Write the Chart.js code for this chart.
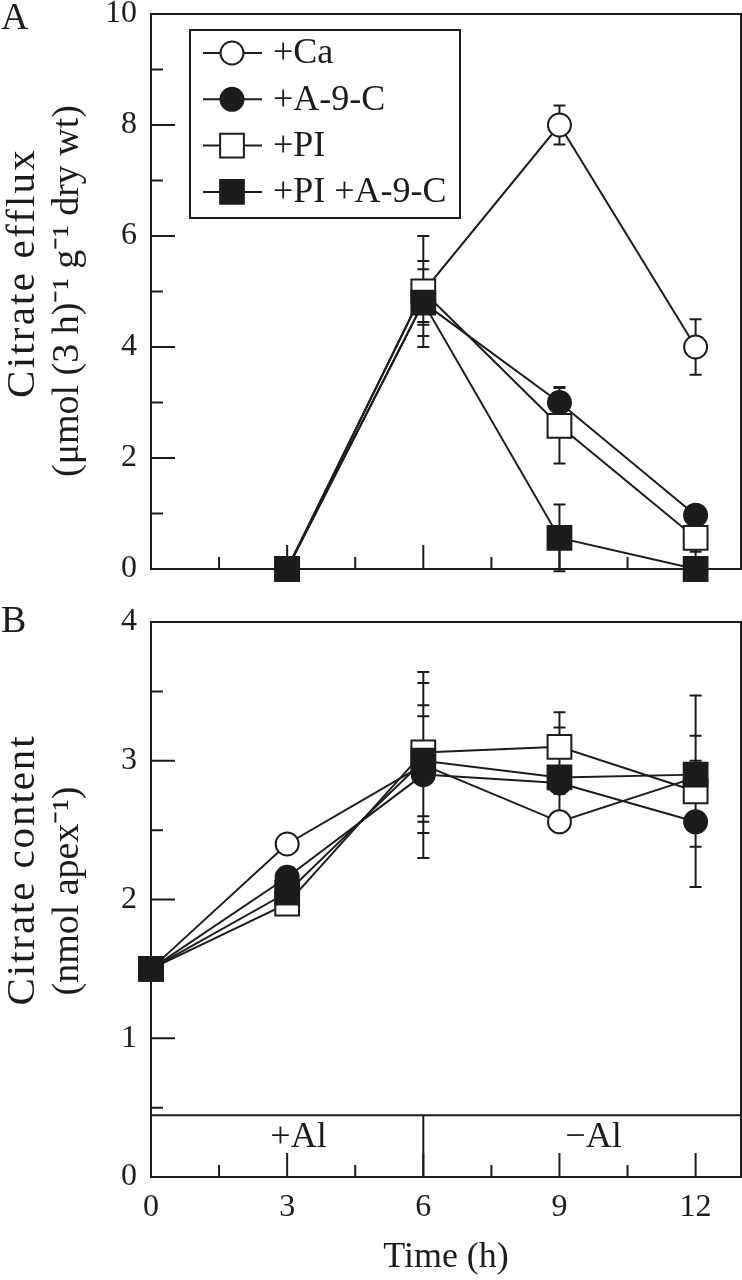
<!DOCTYPE html>
<html><head><meta charset="utf-8">
<script src="https://cdn.jsdelivr.net/npm/chart.js@4.4.0/dist/chart.umd.min.js"></script>
<style>
html,body{margin:0;padding:0;background:#fff;}
#wrap{position:relative;width:742px;height:1280px;overflow:hidden;}
#cA{position:absolute;left:0;top:0;}
#cB{position:absolute;left:0;top:600px;}
</style></head><body>
<div id="wrap"><canvas id="cA" width="742" height="600"></canvas><canvas id="cB" width="742" height="680"></canvas></div>
<script>
// ---------- data ----------
const seriesNames = ['+Ca', '+A-9-C', '+PI', '+PI +A-9-C'];

// Panel A: citrate efflux
const effluxTimes = [3, 6, 9, 12];
const effluxCa     = [0, 5.0, 8.0, 4.0];
const effluxA9C    = [0, 4.8, 3.0, 0.97];
const effluxPI     = [0, 5.0, 2.58, 0.56];
const effluxPIA9C  = [0, 4.8, 0.56, 0];
const effluxErrCa    = [0, 1.0, 0.35, 0.5];
const effluxErrA9C   = [0, 0.4, 0.28, 0.1];
const effluxErrPI    = [0, 0.55, 0.68, 0.25];
const effluxErrPIA9C = [0, 0.6, 0.6, 0];

// Panel B: citrate content
const contentTimes = [0, 3, 6, 9, 12];
const contentCa    = [1.5, 2.4, 2.97, 2.56, 2.88];
const contentA9C   = [1.5, 2.16, 2.9, 2.84, 2.56];
const contentPI    = [1.5, 1.97, 3.06, 3.1, 2.78];
const contentPIA9C = [1.5, 2.05, 3.0, 2.88, 2.9];
const contentErrCa    = [0, 0, 0.67, 0, 0.3];
const contentErrA9C   = [0, 0, 0.42, 0.08, 0.18];
const contentErrPI    = [0, 0, 0.5, 0.25, 0.69];
const contentErrPIA9C = [0, 0, 0.4, 0.36, 0.1];

const titleA = ['Citrate efflux', '(\u03bcmol (3 h)\u207b\u00b9 g\u207b\u00b9 dry wt)'];
const titleB = ['Citrate content', '(nmol apex\u207b\u00b9)'];
const titleX = 'Time (h)';

const bandLabels = ['+Al', '\u2212Al'];
const bandCenters = [3.25, 9.75];
const bandSplit = 6;

// ---------- styles ----------
const INK = '#1c1c1c';
const FONT = "'Liberation Serif', 'Times New Roman', serif";
const pointStyles = ['circle', 'circle', 'rect', 'rect'];
const pointFills = ['#ffffff', INK, '#ffffff', INK];
const pointSizes = [11.5, 11.5, 16.8, 16.8];
const drawOrder = [3, 2, 1, 0];

function buildDatasets(times, vals, errs) {
  return vals.map((v, s) => ({
    label: seriesNames[s],
    data: times.map((t, i) => ({x: t, y: v[i]})),
    errors: errs[s],
    borderColor: INK,
    borderWidth: 2,
    tension: 0,
    fill: false,
    pointStyle: pointStyles[s],
    pointRadius: pointSizes[s],
    pointHoverRadius: pointSizes[s],
    pointBackgroundColor: pointFills[s],
    pointBorderColor: INK,
    pointBorderWidth: 2,
    clip: false,
    order: drawOrder[s]
  }));
}

const framePlugin = {
  id: 'frame',
  beforeDatasetsDraw(chart, args, opts) {
    const {ctx, chartArea: a, scales: {x, y}} = chart;
    ctx.save();
    ctx.strokeStyle = INK;
    ctx.lineWidth = 2;
    ctx.strokeRect(a.left, a.top, a.right - a.left, a.bottom - a.top);
    ctx.beginPath();
    x.ticks.forEach(t => {
      if (t.value <= x.min || t.value >= x.max) return;
      const px = x.getPixelForValue(t.value);
      const len = (t.value % 3 === 0) ? 24 : 12;
      ctx.moveTo(px, a.bottom); ctx.lineTo(px, a.bottom - len);
    });
    y.ticks.forEach(t => {
      if (t.value <= y.min || t.value >= y.max) return;
      const py = y.getPixelForValue(t.value);
      const len = (t.label !== '' && t.label !== undefined) ? 24 : 12;
      ctx.moveTo(a.left, py); ctx.lineTo(a.left + len, py);
    });
    ctx.stroke();
    if (opts.band) {
      const by = y.getPixelForValue(opts.bandTop);
      const sx = x.getPixelForValue(bandSplit);
      ctx.beginPath();
      ctx.moveTo(a.left, by); ctx.lineTo(a.right, by);
      ctx.moveTo(sx, by); ctx.lineTo(sx, a.bottom);
      ctx.stroke();
      ctx.fillStyle = INK;
      ctx.font = '36px ' + FONT;
      ctx.textAlign = 'center';
      ctx.textBaseline = 'alphabetic';
      const ty = y.getPixelForValue(opts.bandText);
      bandLabels.forEach((l, i) => ctx.fillText(l, x.getPixelForValue(bandCenters[i]), ty));
    }
    // error bars
    ctx.beginPath();
    chart.data.datasets.forEach(ds => {
      ds.data.forEach((p, i) => {
        const e = ds.errors[i];
        if (!e) return;
        const px = x.getPixelForValue(p.x);
        const y1 = y.getPixelForValue(p.y + e), y2 = y.getPixelForValue(p.y - e);
        ctx.moveTo(px, y1); ctx.lineTo(px, y2);
        ctx.moveTo(px - 6, y1); ctx.lineTo(px + 6, y1);
        ctx.moveTo(px - 6, y2); ctx.lineTo(px + 6, y2);
      });
    });
    ctx.stroke();
    ctx.restore();
  },
  afterDraw(chart, args, opts) {
    const {ctx} = chart;
    ctx.save();
    ctx.fillStyle = INK;
    ctx.font = '38px ' + FONT;
    ctx.textAlign = 'left';
    ctx.textBaseline = 'middle';
    ctx.fillText(opts.letter, 1, opts.letterY);
    // rotated y-axis title (two lines)
    const T = opts.ytitle;
    T.lines.forEach((line, i) => {
      ctx.save();
      ctx.translate(T.base[i], T.center[i]);
      ctx.rotate(-Math.PI / 2);
      ctx.font = T.size[i] + 'px ' + FONT;
      ctx.textAlign = 'center';
      ctx.textBaseline = 'alphabetic';
      if ('letterSpacing' in ctx) ctx.letterSpacing = T.spacing[i] + 'px';
      ctx.fillText(line, 0, 0);
      ctx.restore();
    });
    if (opts.legend) {
      const L = opts.legend;
      ctx.strokeStyle = INK;
      ctx.lineWidth = 2;
      ctx.strokeRect(L.x, L.y, L.w, L.h);
      chart.data.datasets.forEach((ds, i) => {
        const cy = L.y + L.first + i * L.step;
        ctx.beginPath();
        ctx.moveTo(L.x + 13, cy); ctx.lineTo(L.x + 72, cy);
        ctx.stroke();
        const cx = L.x + 42;
        ctx.beginPath();
        const r = ds.pointRadius;
        if (ds.pointStyle === 'circle') {
          ctx.arc(cx, cy, r, 0, Math.PI * 2);
        } else {
          const s = r * Math.SQRT1_2;
          ctx.rect(cx - s, cy - s, 2 * s, 2 * s);
        }
        ctx.fillStyle = ds.pointBackgroundColor;
        ctx.fill();
        ctx.stroke();
        ctx.fillStyle = INK;
        ctx.font = '36px ' + FONT;
        ctx.textAlign = 'left';
        ctx.textBaseline = 'middle';
        ctx.fillText(ds.label, L.x + 83, cy + 1);
      });
    }
    ctx.restore();
  }
};

function yAfterFit(scale) { scale.width = 151; scale.paddingTop = 0; scale.paddingBottom = 0; }

const tickFont = {family: FONT, size: 32, lineHeight: 1.2};

// ---------- Panel A ----------
new Chart(document.getElementById('cA'), {
  type: 'line',
  data: {datasets: buildDatasets(effluxTimes,
    [effluxCa, effluxA9C, effluxPI, effluxPIA9C],
    [effluxErrCa, effluxErrA9C, effluxErrPI, effluxErrPIA9C])},
  options: {
    responsive: false, animation: false, devicePixelRatio: 1,
    layout: {autoPadding: false, padding: {top: 14, right: 1, left: 0, bottom: 0}},
    plugins: {
      legend: {display: false}, tooltip: {enabled: false},
      frame: {letter: 'A', letterY: 19,
        ytitle: {lines: titleA, base: [34, 78], center: [273, 291], size: [41, 38], spacing: [2.2, 0]},
        legend: {x: 190, y: 30, w: 270, h: 188, first: 23, step: 46.3}}
    },
    scales: {
      x: {type: 'linear', min: 0, max: 13,
        ticks: {stepSize: 1.5, includeBounds: false, display: false, autoSkip: false},
        grid: {display: false, drawTicks: false}, border: {display: false},
        afterFit: s => { s.height = 31; s.paddingLeft = 0; s.paddingRight = 0; }
      },
      y: {type: 'linear', min: 0, max: 10,
        ticks: {stepSize: 1, autoSkip: false, padding: 14, color: INK, font: tickFont,
          callback: v => (v % 2 === 0 ? String(v) : '')},
        grid: {display: false, drawTicks: false}, border: {display: false},
        afterFit: yAfterFit
      }
    }
  },
  plugins: [framePlugin]
});

// ---------- Panel B ----------
new Chart(document.getElementById('cB'), {
  type: 'line',
  data: {datasets: buildDatasets(contentTimes,
    [contentCa, contentA9C, contentPI, contentPIA9C],
    [contentErrCa, contentErrA9C, contentErrPI, contentErrPIA9C])},
  options: {
    responsive: false, animation: false, devicePixelRatio: 1,
    layout: {autoPadding: false, padding: {top: 22, right: 1, left: 0, bottom: 0}},
    plugins: {
      legend: {display: false}, tooltip: {enabled: false},
      frame: {letter: 'B', letterY: 22, band: true, bandTop: 0.445, bandText: 0.216,
        ytitle: {lines: titleB, base: [34, 78], center: [270, 291], size: [41, 38], spacing: [1.9, 0]}}
    },
    scales: {
      x: {type: 'linear', min: 0, max: 13,
        ticks: {stepSize: 1.5, includeBounds: false, autoSkip: false, maxRotation: 0,
          padding: 11, color: INK, font: tickFont,
          callback: v => (v % 3 === 0 ? String(v) : '')},
        grid: {display: false, drawTicks: false}, border: {display: false},
        title: {display: true, text: titleX, color: INK,
          font: {family: FONT, size: 36, lineHeight: 1.2}, padding: {top: 0, bottom: 1}},
        afterFit: s => { s.height = 103; s.paddingLeft = 0; s.paddingRight = 0; }
      },
      y: {type: 'linear', min: 0, max: 4,
        ticks: {stepSize: 0.5, autoSkip: false, padding: 14, color: INK, font: tickFont,
          callback: v => (Number.isInteger(v) ? String(v) : '')},
        grid: {display: false, drawTicks: false}, border: {display: false},
        afterFit: yAfterFit
      }
    }
  },
  plugins: [framePlugin]
});
</script>
</body></html>
